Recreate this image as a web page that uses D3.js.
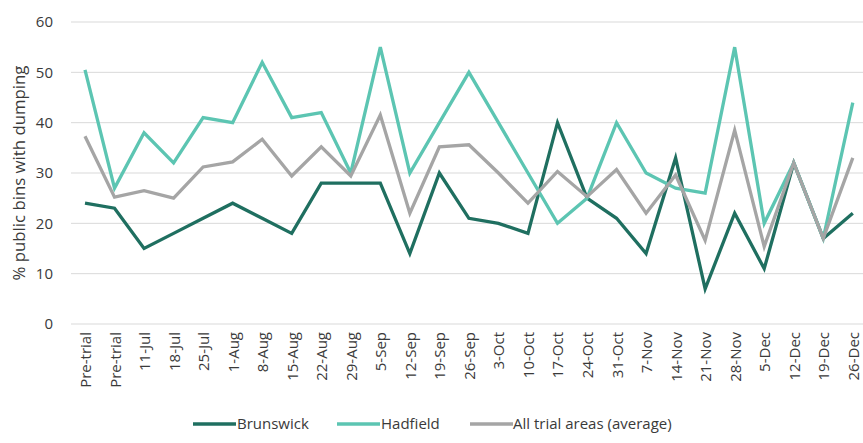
<!DOCTYPE html>
<html>
<head>
<meta charset="utf-8">
<script src="https://cdn.jsdelivr.net/npm/d3@7"></script>
<style>
  html, body { margin: 0; padding: 0; background: #ffffff; }
  svg { display: block; }
</style>
</head>
<body>
<svg id="chart" width="863" height="443"></svg>
<script>
// Weekly share of public bins with dumping, per trial area
const weeks = ["Pre-trial", "Pre-trial", "11-Jul", "18-Jul", "25-Jul", "1-Aug", "8-Aug", "15-Aug",
  "22-Aug", "29-Aug", "5-Sep", "12-Sep", "19-Sep", "26-Sep", "3-Oct", "10-Oct", "17-Oct",
  "24-Oct", "31-Oct", "7-Nov", "14-Nov", "21-Nov", "28-Nov", "5-Dec", "12-Dec", "19-Dec", "26-Dec"];

const brunswick = [24, 23, 15, 18, 21, 24, 21, 18, 28, 28, 28, 14, 30, 21, 20, 18, 40,
  25, 21, 14, 33, 7, 22, 11, 32, 17, 22];

const hadfield = [50.5, 27, 38, 32, 41, 40, 52, 41, 42, 30, 55, 30, 40, 50, 40, 30, 20,
  25, 40, 30, 27, 26, 55, 20, 32, 17, 44];

const average = [37.3, 25.2, 26.5, 25, 31.2, 32.2, 36.7, 29.4, 35.2, 29.4, 41.5, 22, 35.2, 35.6, 30, 24, 30.3,
  25.3, 30.7, 22, 29.6, 16.6, 38.5, 15.4, 32, 17, 33];

const yTicks = [0, 10, 20, 30, 40, 50, 60];

const seriesList = [
  { name: "Brunswick", values: brunswick, color: "#1f6f60" },
  { name: "Hadfield", values: hadfield, color: "#5cc5b2" },
  { name: "All trial areas (average)", values: average, color: "#a5a5a5" }
];

const svg = d3.select("#chart");
const font = "'Open Sans', 'Noto Sans', sans-serif";
const textColor = "#3a3a3a";

const idx = weeks.map((d, i) => i);
const x = d3.scalePoint().domain(idx).range([85, 852.8]);
const y = d3.scaleLinear().domain([0, 60]).range([324, 22]);

// Horizontal gridlines
svg.append("g")
  .selectAll("line")
  .data(yTicks)
  .join("line")
  .attr("x1", 71).attr("x2", 863)
  .attr("y1", d => y(d)).attr("y2", d => y(d))
  .attr("stroke", "#d9d9d9")
  .attr("stroke-width", 1);

// Y axis labels
const yAxis = svg.append("g")
  .attr("transform", "translate(53,0)")
  .call(d3.axisLeft(y).tickValues(yTicks).tickSize(0).tickPadding(0));
yAxis.select(".domain").remove();
yAxis.selectAll("text")
  .attr("font-family", font).attr("font-size", 15).attr("fill", textColor);

// Y axis title
svg.append("text")
  .attr("transform", "translate(25,173) rotate(-90)")
  .attr("text-anchor", "middle")
  .attr("font-family", font).attr("font-size", 16.8)
  .attr("fill", textColor)
  .text("% public bins with dumping");

// X axis labels (rotated)
const xAxis = svg.append("g")
  .call(d3.axisBottom(x).tickSize(0).tickPadding(0).tickFormat(i => weeks[i]));
xAxis.select(".domain").remove();
xAxis.selectAll(".tick").attr("transform", null);
xAxis.selectAll("text")
  .attr("font-family", font).attr("font-size", 15).attr("fill", textColor)
  .attr("text-anchor", "end")
  .attr("dy", null)
  .attr("x", 0).attr("y", 0)
  .attr("transform", i => `translate(${x(i) + 6},332) rotate(-90)`);

// Lines
const line = d3.line()
  .x((d, i) => x(i))
  .y(d => y(d));

svg.append("g")
  .selectAll("path")
  .data(seriesList)
  .join("path")
  .attr("d", s => line(s.values))
  .attr("fill", "none")
  .attr("stroke", s => s.color)
  .attr("stroke-width", 3.3)
  .attr("stroke-linejoin", "miter")
  .attr("stroke-linecap", "butt");

// Legend
const legendItems = [
  { x: 193, textX: 237 },
  { x: 337, textX: 381 },
  { x: 470, textX: 513 }
];
const legend = svg.append("g");
seriesList.forEach((s, k) => {
  const p = legendItems[k];
  legend.append("line")
    .attr("x1", p.x).attr("x2", p.x + 43)
    .attr("y1", 424).attr("y2", 424)
    .attr("stroke", s.color).attr("stroke-width", 3.5);
  legend.append("text")
    .attr("x", p.textX).attr("y", 424)
    .attr("dy", "0.35em")
    .attr("font-family", font).attr("font-size", 15)
    .attr("fill", textColor)
    .text(s.name);
});
</script>
</body>
</html>
